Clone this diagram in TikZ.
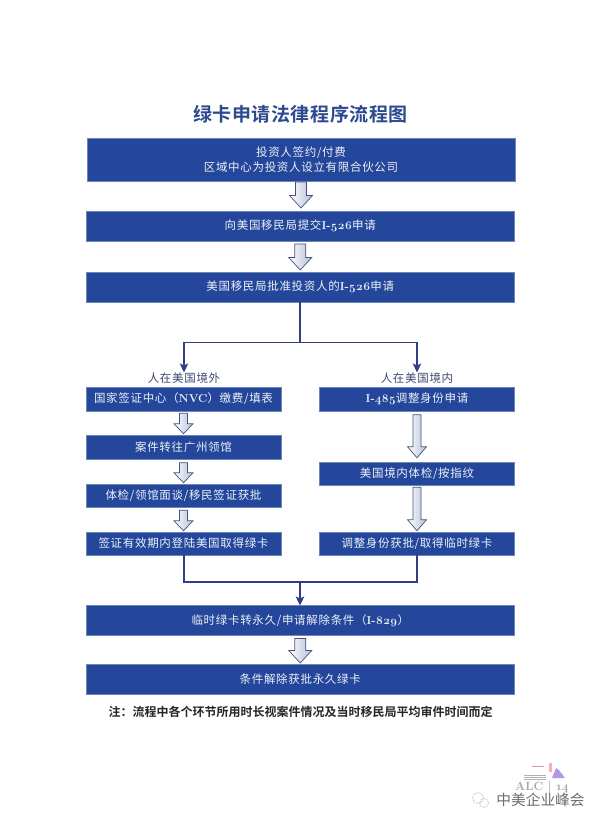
\documentclass[tikz,border=0pt]{standalone}
\usepackage{fontspec}
\setmainfont{Noto Sans CJK SC}[LetterSpace=6]
\newfontfamily\titlef{Noto Sans CJK SC}[BoldFont=* Bold,LetterSpace=3]
\newfontfamily\notef{Noto Sans CJK SC}[BoldFont=* Bold]
\newfontfamily\latf{Latin Modern Roman}[Numbers=OldStyle]
\newcommand\lat[1]{{\latf\bfseries #1}}
\usetikzlibrary{arrows.meta,calc}
\definecolor{boxblue}{HTML}{24479B}
\definecolor{boxedge}{HTML}{6C86BC}
\definecolor{linkblue}{HTML}{2F3F85}
\definecolor{arrowedge}{HTML}{46517F}
\definecolor{arrowgrey}{HTML}{B4BFD6}
\definecolor{titleblue}{HTML}{2B4A8F}
\definecolor{labeltext}{HTML}{3C4A70}
\definecolor{softwhite}{HTML}{EDF0F7}
\tikzset{
  stepbox/.style={draw=boxedge,line width=0.5pt,fill=boxblue,text=softwhite,inner sep=0pt,outer sep=0pt,font=\fontsize{11.5}{15}\selectfont,align=center},
  wide/.style={stepbox,minimum width=428.5pt},
  half/.style={stepbox,minimum width=195pt,minimum height=23.5pt},
  branchlabel/.style={text=labeltext,inner sep=0pt,font=\fontsize{11.5}{14}\selectfont},
  link/.style={draw=linkblue,line width=1.2pt},
  linkarrow/.style={link,-{Stealth[length=9pt,width=8.5pt,inset=2pt]}},
  hollow/.style={draw=arrowedge,line width=0.7pt,line join=miter,left color=white,right color=arrowgrey},
}
% from, to, dx, top gap, bottom gap, half shaft, half head, head length
\newcommand\harrow[8]{%
  \path[hollow] let \p1=(#1.south),\p2=(#2.north) in
    (\x1+#3pt-#6pt,\y1-#4pt) -- (\x1+#3pt+#6pt,\y1-#4pt)
    -- (\x1+#3pt+#6pt,\y2+#5pt+#8pt) -- (\x1+#3pt+#7pt,\y2+#5pt+#8pt)
    -- (\x1+#3pt,\y2+#5pt) -- (\x1+#3pt-#7pt,\y2+#5pt+#8pt)
    -- (\x1+#3pt-#6pt,\y2+#5pt+#8pt) -- cycle;}
\begin{document}
\begin{tikzpicture}[x=1pt,y=-1pt]
\useasboundingbox[fill=white] (0,0) rectangle (604,825);

\node[font=\titlef\bfseries\fontsize{19}{22}\selectfont,text=titleblue,inner sep=0pt] (title) at (300.5,114) {绿卡申请法律程序流程图};

\node[wide,minimum height=43pt,minimum width=428pt] (b1) at (301,159.5) {投资人签约/付费\\区域中心为投资人设立有限合伙公司};
\node[wide,minimum height=30pt] (b2) at (300.25,226) {向美国移民局提交\lat{I-526}申请};
\node[wide,minimum height=30pt] (b3) at (300.25,287) {美国移民局批准投资人的\lat{I-526}申请};

\coordinate (split) at (300,342.5);
\node[branchlabel] (lout) at (184,378) {人在美国境外};
\node[branchlabel] (lin) at (417,378) {人在美国境内};

\node[half] (a1) at (183.5,399) {国家签证中心（\lat{NVC}）缴费/填表};
\node[half] (a2) at (183.5,447) {案件转往广州领馆};
\node[half] (a3) at (183.5,495.5) {体检/领馆面谈/移民签证获批};
\node[half] (a4) at (183.5,543.5) {签证有效期内登陆美国取得绿卡};

\node[half] (c1) at (417,399) {\lat{I-485}调整身份申请};
\node[half] (c2) at (417,473.5) {美国境内体检/按指纹};
\node[half] (c3) at (417,543.5) {调整身份获批/取得临时绿卡};

\coordinate (merge) at (300,582);
\node[wide,minimum height=30pt] (b4) at (300.25,620.5) {临时绿卡转永久/申请解除条件（\lat{I-829}）};
\node[wide,minimum height=30pt] (b5) at (300.25,679) {条件解除获批永久绿卡};

\node[font=\notef\bfseries\fontsize{12}{14}\selectfont,text=black!85,inner sep=0pt] (note) at (300.5,712) {注：流程中各个环节所用时长视案件情况及当时移民局平均审件时间而定};

% line connectors
\draw[link] (b3.south -| split) -- (split);
\draw[linkarrow] (split) -| (lout.north);
\draw[linkarrow] (split) -| (lin.north);
\draw[link] (a4.south -| lout) |- (merge);
\draw[link] (c3.south -| lin) |- (merge);
\draw[linkarrow] (merge) -- (b4.north -| merge);

% hollow block arrows
\harrow{b1}{b2}{0}{1}{3}{5.5}{11.5}{12.5}
\harrow{b2}{b3}{0}{3}{2}{5.5}{11.5}{12.5}
\harrow{b4}{b5}{0}{3}{1}{5.5}{11.5}{12.5}
\harrow{a1}{a2}{0}{2.5}{1.5}{4}{9.5}{10}
\harrow{a2}{a3}{0}{4}{1}{4}{9.5}{10}
\harrow{a3}{a4}{0}{3}{1}{4}{9.5}{10}
\harrow{c1}{c2}{0}{4}{4}{4}{9.5}{11}
\harrow{c2}{c3}{0}{2}{1}{4}{9.5}{11}

% corner logo and watermark
\fill[red!70!black,opacity=.4] (532,765.5) rectangle (544,767);
\foreach \yy in {775,777,779}{\draw[gray!60,line width=.5pt] (524,\yy) -- (546,\yy);}
\fill[blue!50!violet,opacity=.4] (552,778) -- (556,768) -- (559,770) -- (565,778) -- cycle;
\fill[red!70,opacity=.45] (549,763) rectangle (552,772);
\node[text=gray!70,inner sep=0pt,font=\latf\bfseries\fontsize{12}{14}\selectfont] (alc) at (542,787) {ALC | 14};
\draw[gray!65,densely dotted,line width=.7pt] (478,798) circle (5.5);
\draw[gray!65,densely dotted,line width=.7pt] (484,803) circle (4.5);
\node[text=gray!85!black,inner sep=0pt,font=\notef\fontsize{14.7}{16}\selectfont] (mark) at (540.5,799.5) {中美企业峰会};
\end{tikzpicture}
\end{document}
